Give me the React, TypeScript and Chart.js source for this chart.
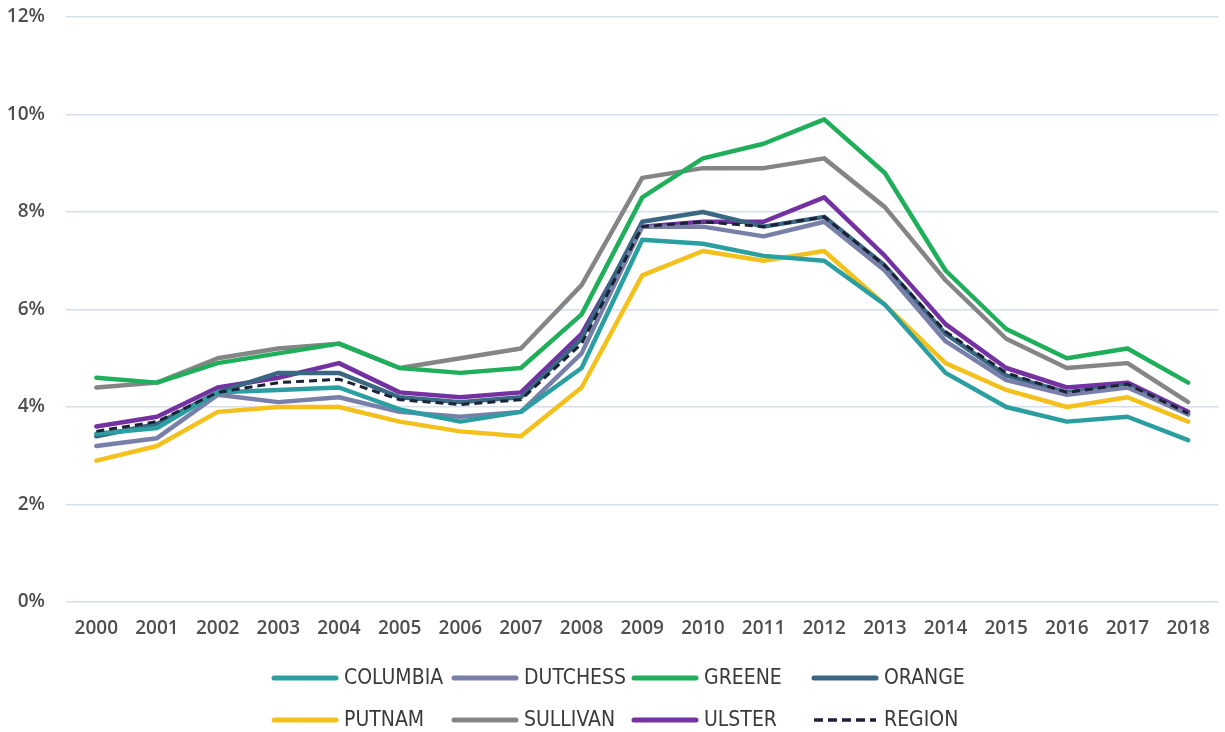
import React, { useEffect, useRef } from "react";
import { Chart, registerables } from "chart.js";

Chart.register(...registerables);

const years = ["2000", "2001", "2002", "2003", "2004", "2005", "2006", "2007", "2008", "2009", "2010", "2011", "2012", "2013", "2014", "2015", "2016", "2017", "2018"];

const columbia = [3.45, 3.57, 4.3, 4.35, 4.4, 3.95, 3.7, 3.9, 4.8, 7.43, 7.35, 7.1, 7.0, 6.1, 4.7, 4.0, 3.7, 3.8, 3.32];
const dutchess = [3.2, 3.36, 4.25, 4.1, 4.2, 3.9, 3.8, 3.9, 5.1, 7.7, 7.7, 7.5, 7.8, 6.8, 5.35, 4.55, 4.25, 4.4, 3.85];
const greene = [4.6, 4.5, 4.9, 5.1, 5.3, 4.8, 4.7, 4.8, 5.9, 8.3, 9.1, 9.4, 9.9, 8.8, 6.8, 5.6, 5.0, 5.2, 4.5];
const orange = [3.4, 3.65, 4.3, 4.7, 4.7, 4.2, 4.1, 4.2, 5.4, 7.8, 8.0, 7.7, 7.9, 6.9, 5.5, 4.65, 4.3, 4.45, 3.85];
const putnam = [2.9, 3.2, 3.9, 4.0, 4.0, 3.7, 3.5, 3.4, 4.4, 6.7, 7.2, 7.0, 7.2, 6.1, 4.9, 4.35, 4.0, 4.2, 3.7];
const sullivan = [4.4, 4.5, 5.0, 5.2, 5.3, 4.8, 5.0, 5.2, 6.5, 8.7, 8.9, 8.9, 9.1, 8.1, 6.6, 5.4, 4.8, 4.9, 4.1];
const ulster = [3.6, 3.8, 4.4, 4.6, 4.9, 4.3, 4.2, 4.3, 5.5, 7.7, 7.8, 7.8, 8.3, 7.1, 5.7, 4.8, 4.4, 4.5, 3.9];
const region = [3.5, 3.7, 4.3, 4.5, 4.57, 4.15, 4.05, 4.15, 5.3, 7.7, 7.8, 7.7, 7.9, 6.9, 5.55, 4.7, 4.3, 4.47, 3.87];

const seriesNames = ["COLUMBIA", "DUTCHESS", "GREENE", "ORANGE", "PUTNAM", "SULLIVAN", "ULSTER", "REGION"];
const seriesValues = [columbia, dutchess, greene, orange, putnam, sullivan, ulster, region];
const seriesColors = ["#2A9EA0", "#7880AA", "#1FAF5A", "#3A6781", "#F4C01B", "#858585", "#7331A1", "#1B2136"];

const gridLegend = {
  id: "gridLegend",
  afterDraw(chart: any) {
    const ctx = chart.ctx;
    const colX = [272, 452, 632, 812];
    const rowY = [678, 720];
    const lineLen = 64;
    ctx.save();
    ctx.font = "21px 'Liberation Sans Narrow', 'DejaVu Sans Condensed', sans-serif";
    ctx.textBaseline = "middle";
    ctx.textAlign = "left";
    chart.data.datasets.forEach((ds: any, i: number) => {
      const x = colX[i % 4];
      const y = rowY[Math.floor(i / 4)];
      const dashed = ds.borderDash && ds.borderDash.length;
      ctx.beginPath();
      ctx.strokeStyle = ds.borderColor;
      ctx.lineWidth = dashed ? 3.5 : 5;
      ctx.lineCap = dashed ? "butt" : "round";
      ctx.setLineDash(dashed ? [9, 5] : []);
      ctx.moveTo(x + 2, y);
      ctx.lineTo(x + lineLen, y);
      ctx.stroke();
      ctx.setLineDash([]);
      ctx.fillStyle = "#3A3A3A";
      ctx.fillText(ds.label, x + lineLen + 8, y + 1);
    });
    ctx.restore();
  },
};

export default function App() {
  const ref = useRef<HTMLCanvasElement>(null);
  useEffect(() => {
    document.body.style.margin = "0";
    const canvas = ref.current!;
    const datasets = seriesNames.map((name, i) => {
      const isRegion = name === "REGION";
      return {
        label: name,
        data: seriesValues[i],
        borderColor: seriesColors[i],
        backgroundColor: seriesColors[i],
        borderWidth: isRegion ? 3 : 4.5,
        borderDash: isRegion ? [8, 5] : [],
        borderCapStyle: isRegion ? "butt" : "round",
        borderJoinStyle: "round",
        pointRadius: 0,
        tension: 0,
        fill: false,
        order: isRegion ? -1 : i,
      };
    });
    const chart = new Chart(canvas, {
      type: "line",
      data: { labels: years, datasets: datasets as any },
      plugins: [gridLegend],
      options: {
        responsive: false,
        animation: false,
        devicePixelRatio: 1,
        layout: { padding: { top: 17, right: 5, left: 0, bottom: 0 } },
        plugins: { legend: { display: false }, tooltip: { enabled: false } },
        scales: {
          x: {
            offset: true,
            grid: { display: false, drawTicks: false },
            border: { display: false },
            ticks: {
              color: "#4F4F4F",
              font: { family: "'Open Sans', sans-serif", size: 19, weight: "600" },
              padding: 15,
              maxRotation: 0,
              autoSkip: false,
            },
            afterFit: (s: any) => {
              s.height = 130;
            },
          },
          y: {
            min: 0,
            max: 12,
            grid: { color: "#D3E0EC", lineWidth: 1.5, drawTicks: false },
            border: { display: false },
            ticks: {
              stepSize: 2,
              color: "#4F4F4F",
              font: { family: "'Open Sans', sans-serif", size: 19, weight: "600" },
              padding: 21,
              callback: (v: any) => v + "%",
            },
            afterFit: (s: any) => {
              s.width = 66;
              s.paddingTop = 0;
              s.paddingBottom = 0;
            },
          },
        },
      },
    });
    return () => chart.destroy();
  }, []);
  return (
    <div style={{ width: 1225, height: 732, background: "#fff" }}>
      <canvas ref={ref} width={1225} height={732} />
    </div>
  );
}
